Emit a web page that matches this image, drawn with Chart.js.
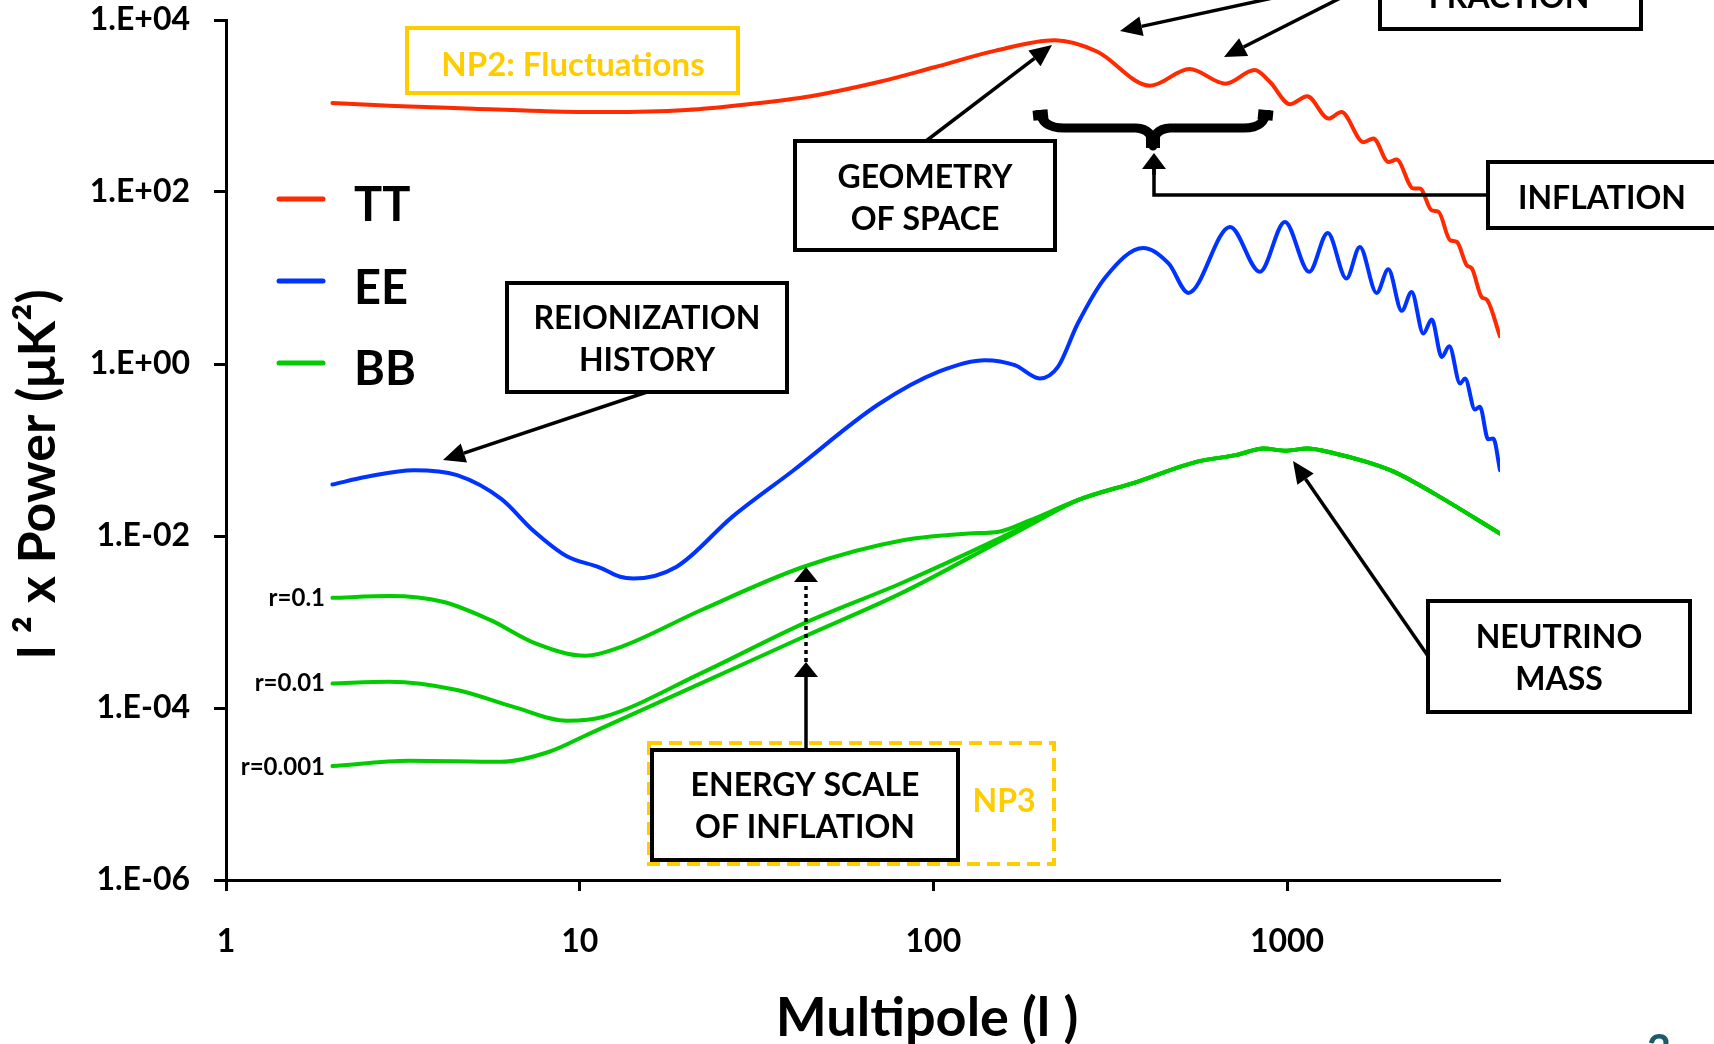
<!DOCTYPE html>
<html>
<head>
<meta charset="utf-8">
<script src="https://cdn.jsdelivr.net/npm/chart.js@4.4.1/dist/chart.umd.min.js"></script>
<style>
  html, body { margin: 0; padding: 0; background: #ffffff; }
  #wrap { width: 1714px; height: 1044px; position: relative; overflow: hidden; }
</style>
</head>
<body>
<div id="wrap"><canvas id="c" width="1714" height="1044"></canvas></div>
<script>
// ---------------- data ----------------
const xTickVals = [1, 10, 100, 1000];
const xTickLabels = ['1', '10', '100', '1000'];
const yTickVals = [1e-6, 1e-4, 1e-2, 1, 1e2, 1e4];
const yTickLabels = ['1.E-06', '1.E-04', '1.E-02', '1.E+00', '1.E+02', '1.E+04'];

const legendLabels = ['TT', 'EE', 'BB'];
const rLabels = ['r=0.1', 'r=0.01', 'r=0.001'];

// TT spectrum
const ttL = [2, 3, 5, 8, 12, 20, 30, 45, 70, 100, 150, 220, 290, 410, 530, 670, 810, 895, 1020, 1140, 1310, 1425, 1645, 1755, 1935, 2040, 2275, 2375, 2565, 2680, 2890, 3020, 3220, 3330, 3550, 3670, 4000];
const ttV = [1085, 1000, 930, 870, 850, 900, 1050, 1300, 1900, 2800, 4400, 5800, 4300, 1720, 2690, 1820, 2620, 1900, 1050, 1300, 715, 850, 380, 420, 223, 238, 110, 110, 61, 59, 27.5, 26.3, 14.1, 12.9, 6.0, 5.6, 2.1];

// EE spectrum
const eeL = [2, 2.5, 3.4, 4.5, 6, 7.4, 9.2, 11.4, 13, 14.2, 18.8, 27, 40, 70, 104, 140, 170, 200, 225, 256, 307, 392, 463, 526, 690, 838, 986, 1155, 1303, 1472, 1606, 1792, 1933, 2110, 2250, 2428, 2565, 2737, 2876, 3085, 3186, 3398, 3510, 3704, 3829, 4000];
const eeV = [0.0397, 0.0488, 0.0583, 0.051, 0.027, 0.0115, 0.0058, 0.0043, 0.00336, 0.00321, 0.0044, 0.0167, 0.057, 0.34, 0.82, 1.107, 0.968, 0.679, 0.925, 2.96, 10.3, 22.4, 14.7, 6.71, 39.3, 11.8, 44.9, 11.8, 33.4, 9.86, 23.0, 6.71, 12.6, 4.15, 6.89, 2.26, 3.29, 1.21, 1.61, 0.593, 0.679, 0.296, 0.318, 0.133, 0.136, 0.0583];

// BB spectra (three tensor-to-scalar ratios, common lensing tail)
const bb1L = [2, 2.9, 4.1, 5.6, 7.5, 10.4, 13.1, 22, 43, 82, 126, 153, 188];
const bb1V = [0.00191, 0.0020, 0.00172, 0.00105, 0.000564, 0.000405, 0.000515, 0.00137, 0.00439, 0.00891, 0.0107, 0.0112, 0.0153];
const bb2L = [2, 2.9, 4.5, 6.5, 9.2, 11.7, 22, 43, 82, 150, 200];
const bb2V = [0.000193, 0.000202, 0.000162, 0.000103, 0.0000711, 0.0000791, 0.000253, 0.000964, 0.00288, 0.00895, 0.016];
const bb3L = [2, 3.3, 6, 8.2, 10.7, 22, 43, 82, 150, 200];
const bb3V = [0.0000211, 0.0000244, 0.0000237, 0.000031, 0.0000507, 0.000193, 0.000673, 0.00221, 0.0082, 0.0155];
const bbTailL = [256, 377, 554, 716, 859, 990, 1140, 1365, 1678, 2010, 2600, 4000];
const bbTailV = [0.0261, 0.0427, 0.0728, 0.0871, 0.104, 0.098, 0.104, 0.0912, 0.0728, 0.0557, 0.0313, 0.0107];

// ---------------- styling ----------------
const RED = '#ff2a00', BLUE = '#0033ff', GREEN = '#00cc00', GOLD = '#ffcc00';
const FONT = 'Lato, "Open Sans", sans-serif';

function pts(L, V) { return L.map((l, i) => ({ x: l, y: V[i] })); }
function lineDs(label, data, color) {
  return { label, data, borderColor: color, backgroundColor: color, borderWidth: 4,
           pointRadius: 0, fill: false, cubicInterpolationMode: 'monotone', borderCapStyle: 'round' };
}

const datasets = [
  lineDs('BB r=0.001', pts(bb3L.concat(bbTailL), bb3V.concat(bbTailV)), GREEN),
  lineDs('BB r=0.01', pts(bb2L.concat(bbTailL), bb2V.concat(bbTailV)), GREEN),
  lineDs('BB r=0.1', pts(bb1L.concat(bbTailL), bb1V.concat(bbTailV)), GREEN),
  lineDs('EE', pts(eeL, eeV), BLUE),
  lineDs('TT', pts(ttL, ttV), RED)
];

// ---------------- annotation drawing ----------------
function arrow(c, x1, y1, x2, y2, hl, hw, lw, dash) {
  const a = Math.atan2(y2 - y1, x2 - x1);
  const bx = x2 - hl * Math.cos(a), by = y2 - hl * Math.sin(a);
  c.save();
  c.strokeStyle = '#000'; c.lineWidth = lw;
  if (dash) c.setLineDash(dash);
  c.beginPath(); c.moveTo(x1, y1); c.lineTo(bx, by); c.stroke();
  c.setLineDash([]);
  c.fillStyle = '#000';
  c.beginPath(); c.moveTo(x2, y2);
  c.lineTo(bx + hw * Math.sin(a), by - hw * Math.cos(a));
  c.lineTo(bx - hw * Math.sin(a), by + hw * Math.cos(a));
  c.closePath(); c.fill();
  c.restore();
}
function box(c, x1, y1, x2, y2, lw, color, dash, fill) {
  c.save();
  if (fill) { c.fillStyle = '#fff'; c.fillRect(x1, y1, x2 - x1, y2 - y1); }
  c.lineWidth = lw; c.strokeStyle = color;
  if (dash) c.setLineDash(dash);
  c.strokeRect(x1, y1, x2 - x1, y2 - y1);
  c.restore();
}
function text(c, s, x, y, size, color, align) {
  c.save();
  c.font = 'bold ' + size + 'px ' + FONT;
  c.fillStyle = color; c.textAlign = align || 'center'; c.textBaseline = 'alphabetic';
  c.fillText(s, x, y);
  c.restore();
}

const annot = {
  id: 'annot',
  afterDraw(chart) {
    const c = chart.ctx;
    c.save();

    // axis titles
    text(c, 'Multipole (l )', 927, 1036, 54, '#000');
    c.save();
    c.translate(55, 474); c.rotate(-Math.PI / 2);
    text(c, 'l ² x Power (μK²)', 0, 0, 52, '#000');
    c.restore();

    // legend
    const legColors = [RED, BLUE, GREEN];
    const legLineY = [199, 281, 363];
    const legTextY = [221, 304, 385];
    legendLabels.forEach((s, i) => {
      c.save(); c.strokeStyle = legColors[i]; c.lineWidth = 5; c.lineCap = 'round';
      c.beginPath(); c.moveTo(279, legLineY[i]); c.lineTo(323, legLineY[i]); c.stroke(); c.restore();
      text(c, s, 354, legTextY[i], 47, '#000', 'left');
    });

    // r labels
    const rY = [606, 691, 775];
    rLabels.forEach((s, i) => text(c, s, 325, rY[i], 24, '#000', 'right'));

    // NP2 box
    box(c, 407, 28, 738, 93, 4, GOLD, null, false);
    text(c, 'NP2: Fluctuations', 573, 76, 33, GOLD);

    // FRACTION box (cut off at top)
    box(c, 1380, -80, 1641, 29, 4, '#000', null, true);
    text(c, 'FRACTION', 1509, 8, 32, '#000');
    arrow(c, 1305, -9, 1120, 31, 22, 10, 3.5);
    arrow(c, 1370, -17, 1224, 57, 22, 10, 3.5);

    // GEOMETRY OF SPACE
    arrow(c, 926, 141, 1052, 45, 22, 10, 3.5);
    box(c, 795, 141, 1055, 250, 4, '#000', null, true);
    text(c, 'GEOMETRY', 925, 188, 32, '#000');
    text(c, 'OF SPACE', 925, 230, 32, '#000');

    // brace
    c.save();
    c.strokeStyle = '#000'; c.fillStyle = '#000'; c.lineJoin = 'round';
    c.lineWidth = 9;
    c.beginPath();
    c.moveTo(1040, 110); c.quadraticCurveTo(1041, 128, 1064, 128);
    c.lineTo(1136, 128); c.quadraticCurveTo(1153, 129, 1153, 146);
    c.quadraticCurveTo(1153, 129, 1170, 128);
    c.lineTo(1244, 128); c.quadraticCurveTo(1266, 128, 1266, 110);
    c.stroke();
    c.lineWidth = 15; c.lineCap = 'butt';
    c.beginPath(); c.moveTo(1040, 110); c.lineTo(1041, 120); c.stroke();
    c.beginPath(); c.moveTo(1266, 110); c.lineTo(1265, 120); c.stroke();
    c.lineWidth = 14;
    c.beginPath(); c.moveTo(1153, 136); c.lineTo(1153, 148); c.stroke();
    c.restore();

    // INFLATION
    c.save(); c.strokeStyle = '#000'; c.lineWidth = 3.5;
    c.beginPath(); c.moveTo(1488, 195); c.lineTo(1154, 195); c.lineTo(1154, 168); c.stroke(); c.restore();
    arrow(c, 1154, 175, 1154, 153, 16, 12, 3.5);
    box(c, 1488, 162, 1720, 228, 4, '#000', null, true);
    text(c, 'INFLATION', 1602, 209, 32, '#000');

    // REIONIZATION HISTORY
    arrow(c, 647, 392, 443, 460, 22, 10, 3.5);
    box(c, 507, 283, 787, 392, 4, '#000', null, true);
    text(c, 'REIONIZATION', 647, 329, 32, '#000');
    text(c, 'HISTORY', 647, 371, 32, '#000');

    // NEUTRINO MASS
    arrow(c, 1428, 656, 1293, 461, 22, 10, 3.5);
    box(c, 1428, 601, 1690, 712, 4, '#000', null, true);
    text(c, 'NEUTRINO', 1559, 648, 32, '#000');
    text(c, 'MASS', 1559, 690, 32, '#000');

    // ENERGY SCALE OF INFLATION + NP3
    box(c, 649, 743, 1054, 864, 4, GOLD, [13, 7], false);
    box(c, 652, 750, 958, 860, 4, '#000', null, true);
    text(c, 'ENERGY SCALE', 805, 796, 32, '#000');
    text(c, 'OF INFLATION', 805, 838, 32, '#000');
    text(c, 'NP3', 1004, 812, 32, GOLD);
    arrow(c, 806, 748, 806, 662, 15, 12, 3.5);
    arrow(c, 806, 662, 806, 567, 15, 12, 3.5, [4, 4]);

    // page number
    text(c, '3', 1659, 1065, 42, '#1d5a6c');

    c.restore();
  }
};

new Chart(document.getElementById('c'), {
  type: 'line',
  data: { datasets },
  plugins: [annot],
  options: {
    responsive: false,
    animation: false,
    devicePixelRatio: 1,
    layout: { padding: { left: 0, top: 20, right: 214, bottom: 0 } },
    plugins: { legend: { display: false }, tooltip: { enabled: false }, title: { display: false } },
    scales: {
      x: {
        type: 'logarithmic', min: 1, max: 4000,
        afterBuildTicks: s => { s.ticks = xTickVals.map(v => ({ value: v })); },
        afterFit: s => { s.height = 164; s.paddingLeft = 0; s.paddingRight = 0; },
        grid: { drawOnChartArea: false, drawTicks: true, tickLength: 11, tickWidth: 3, tickColor: '#000', color: '#000' },
        border: { display: true, color: '#000', width: 3 },
        ticks: { color: '#000', font: { family: FONT, size: 32, weight: 'bold' }, padding: 31,
                 maxRotation: 0, autoSkip: false, callback: (v, i) => xTickLabels[i] }
      },
      y: {
        type: 'logarithmic', min: 1e-6, max: 1e4,
        afterBuildTicks: s => { s.ticks = yTickVals.map(v => ({ value: v })); },
        afterFit: s => { s.width = 226; s.paddingTop = 0; s.paddingBottom = 0; },
        grid: { drawOnChartArea: false, drawTicks: true, tickLength: 12, tickWidth: 3, tickColor: '#000', color: '#000' },
        border: { display: true, color: '#000', width: 3 },
        ticks: { color: '#000', font: { family: FONT, size: 32, weight: 'bold' }, padding: 24,
                 autoSkip: false, callback: (v, i) => yTickLabels[i] }
      }
    }
  }
});
</script>
</body>
</html>
